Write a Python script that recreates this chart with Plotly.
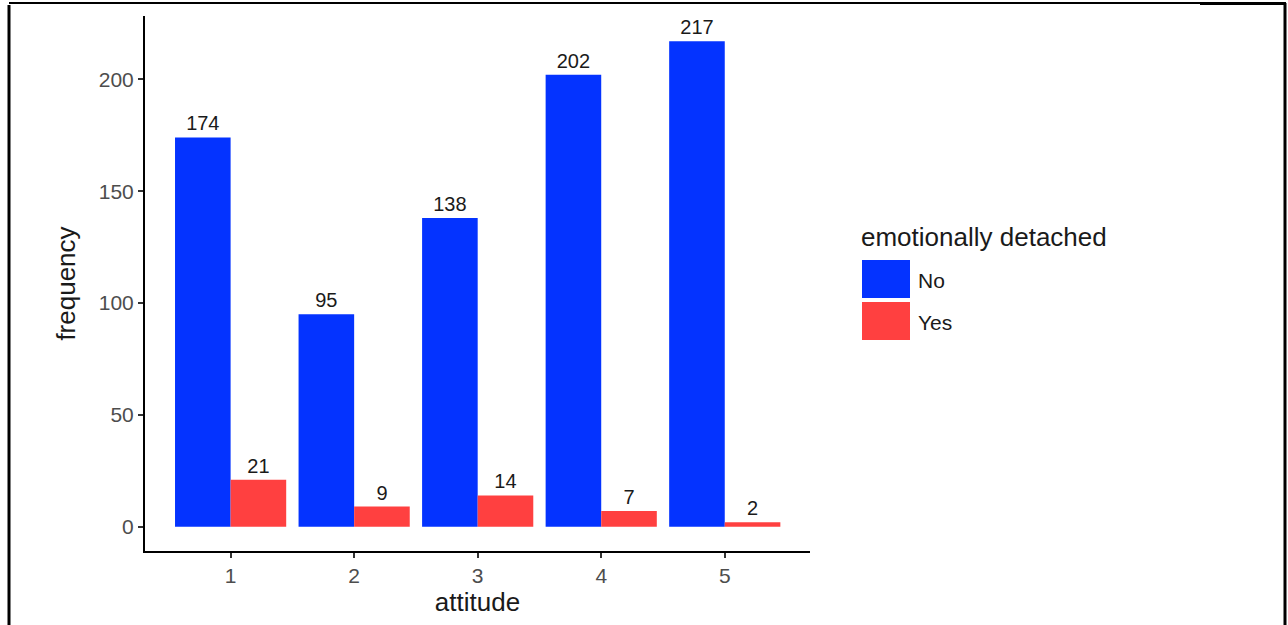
import plotly.graph_objects as go

attitude = [1, 2, 3, 4, 5]
no_counts = [174, 95, 138, 202, 217]
yes_counts = [21, 9, 14, 7, 2]
groups = ["No", "Yes"]
colors = ["#0433FF", "#FF4040"]
y_ticks = [0, 50, 100, 150, 200]

FONT = "Liberation Sans, Arial, sans-serif"

fig = go.Figure()
for name, vals, col in zip(groups, [no_counts, yes_counts], colors):
    fig.add_bar(
        x=attitude,
        y=vals,
        name=name,
        marker_color=col,
        marker_line_width=0,
        text=vals,
        textposition="outside",
        textfont=dict(size=20, color="#1a1a1a", family=FONT),
        cliponaxis=False,
        showlegend=False,
    )

# plot area in pixels: x 145..810, y 16..551
def px(x):
    return (x - 145) / 665

def py(y):
    return (551 - y) / 535

# hand-drawn legend (ggplot-sized keys)
fig.add_annotation(
    x=px(859), y=py(237), xref="paper", yref="paper", text="emotionally detached",
    showarrow=False, xanchor="left", yanchor="middle",
    font=dict(size=26, color="#1a1a1a", family=FONT),
)
for i, (name, col) in enumerate(zip(groups, colors)):
    top = 260 + i * 42
    fig.add_shape(
        type="rect", xref="paper", yref="paper",
        x0=px(862), x1=px(910), y0=py(top), y1=py(top + 38),
        fillcolor=col, line_width=0,
    )
    fig.add_annotation(
        x=px(916), y=py(top + 20), xref="paper", yref="paper", text=name,
        showarrow=False, xanchor="left", yanchor="middle",
        font=dict(size=21, color="#1a1a1a", family=FONT),
    )

# image frame
frame = dict(type="line", xref="paper", yref="paper", line_color="black")
fig.add_shape(**frame, x0=px(9), x1=px(9), y0=py(5), y1=py(630), line_width=3)
fig.add_shape(**frame, x0=px(9), x1=px(1200), y0=py(3), y1=py(3), line_width=2)
fig.add_shape(**frame, x0=px(1200), x1=px(1286), y0=py(3.5), y1=py(3.5), line_width=3)
fig.add_shape(**frame, x0=px(1285), x1=px(1285), y0=py(3), y1=py(630), line_width=3)

fig.update_layout(
    width=1288,
    height=625,
    margin=dict(l=145, r=478, t=16, b=74),
    plot_bgcolor="white",
    paper_bgcolor="white",
    barmode="group",
    bargap=0.1,
    bargroupgap=0,
    font=dict(family=FONT),
)
fig.update_xaxes(
    range=[0.307, 5.69],
    tickvals=attitude,
    ticks="outside",
    ticklen=5,
    tickwidth=2,
    tickcolor="#333333",
    showline=True,
    linecolor="black",
    linewidth=2,
    showgrid=False,
    zeroline=False,
    tickfont=dict(size=21, color="#4d4d4d"),
    title=dict(text="attitude", font=dict(size=26, color="#1a1a1a"), standoff=4),
)
fig.update_yaxes(
    range=[-10.85, 228.3],
    tickvals=y_ticks,
    ticks="outside",
    ticklen=5,
    tickwidth=2,
    tickcolor="#333333",
    showline=True,
    linecolor="black",
    linewidth=2,
    showgrid=False,
    zeroline=False,
    tickfont=dict(size=21, color="#4d4d4d"),
    title=dict(text="frequency", font=dict(size=26, color="#1a1a1a"), standoff=16),
)

fig.write_html(
    "out.html",
    config={"displayModeBar": False},
    post_script="document.body.style.margin='0';document.body.style.overflow='hidden';",
)
